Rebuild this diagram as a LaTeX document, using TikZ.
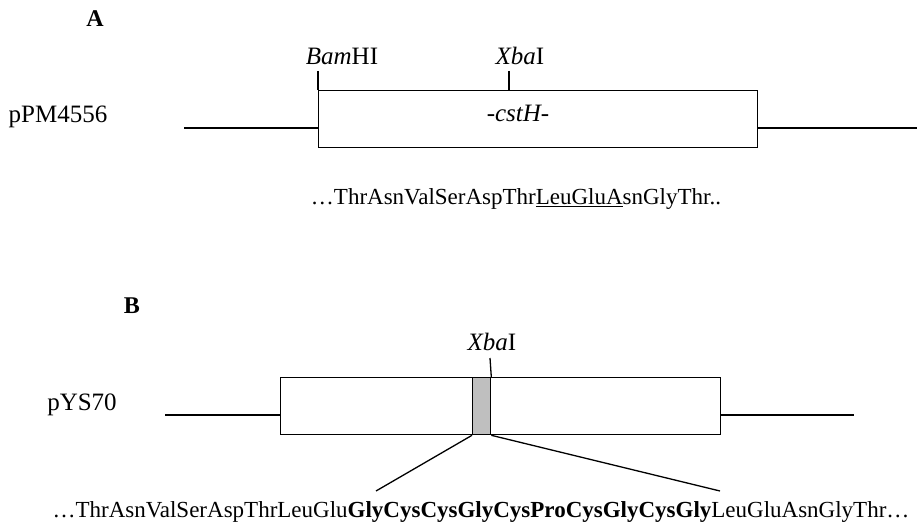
\documentclass[tikz,border=0pt]{standalone}
\usepackage{fontspec}
\setmainfont{Liberation Serif}
\begin{document}
\begin{tikzpicture}[x=1pt,y=-1pt,line width=1.3pt,
  lbl/.style={inner sep=0pt,anchor=base,font=\fontsize{25}{30}\selectfont},
  seq/.style={inner sep=0pt,anchor=base,font=\fontsize{23}{28}\selectfont},
  gene/.style={draw,inner sep=0pt,anchor=north west}]
\useasboundingbox (0,0) rectangle (917,526);
% ---------- A ----------
\node[lbl,font=\fontsize{24}{30}\selectfont\bfseries] (labA) at (95,27) {A};
\node[lbl] (pPM) at (58,123) {pPM4556};
\node[gene,minimum width=439pt,minimum height=57pt] (boxA) at (318,90) {};
\coordinate (lA) at (184,128);
\coordinate (rA) at (917,128);
\draw (lA) -- (lA -| boxA.west);
\draw (boxA.east |- rA) -- (rA);
\coordinate (bamT) at (318,71);
\draw (bamT) -- (boxA.north west);
\node[lbl] (bam) at (342,65) {\textit{Bam}HI};
\coordinate (xbaAT) at (509,71);
\coordinate (xbaAB) at (509,90);
\draw (xbaAT) -- (xbaAB);
\node[lbl] (xbaA) at (520,65) {\textit{Xba}I};
\node[lbl] (cst) at (518,122) {\textit{-cstH-}};
\node[seq] (seqA) at (516,205) {\ldots ThrAsnValSerAspThr\underline{LeuGluA}snGlyThr..};
% ---------- B ----------
\node[lbl,font=\fontsize{24}{30}\selectfont\bfseries] (labB) at (132,313) {B};
\node[lbl] (pYS) at (82,410) {pYS70};
\node[gene,minimum width=440pt,minimum height=57pt] (boxB) at (280,377) {};
\coordinate (lB) at (165,415);
\coordinate (rB) at (854,415);
\draw (lB) -- (lB -| boxB.west);
\draw (boxB.east |- rB) -- (rB);
\node[gene,fill=black!25,minimum width=18pt,minimum height=57pt] (ins) at (472,377) {};
\coordinate (xbaBT) at (490,358);
\draw (xbaBT) -- (ins.north east);
\node[lbl] (xbaB) at (492,350) {\textit{Xba}I};
\coordinate (dL) at (376,491);
\coordinate (dR) at (720,491);
\draw (ins.south west) -- (dL);
\draw (ins.south east) -- (dR);
\node[seq] (seqB) at (481,517) {\ldots ThrAsnValSerAspThrLeuGlu\textbf{GlyCysCysGlyCysProCysGlyCysGly}LeuGluAsnGlyThr\ldots};
\end{tikzpicture}
\end{document}
